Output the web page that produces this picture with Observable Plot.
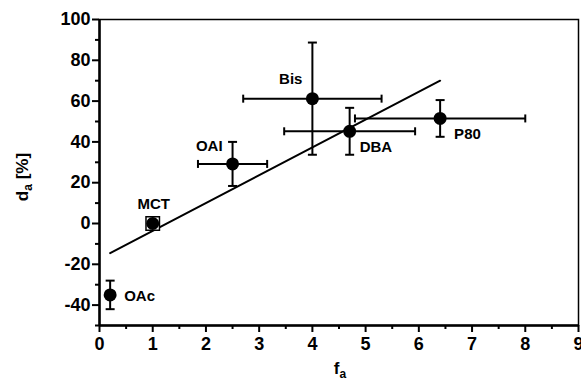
<!DOCTYPE html>
<html>
<head>
<meta charset="utf-8">
<script src="https://cdn.jsdelivr.net/npm/d3@7"></script>
<script src="https://cdn.jsdelivr.net/npm/@observablehq/plot@0.6"></script>
<style>
  html, body { margin: 0; padding: 0; background: #fff; }
  #chart svg { display: block; }
  #chart g[aria-label="x-axis tick label"] text,
  #chart g[aria-label="y-axis tick label"] text { font-weight: bold; font-size: 18px; }
  #chart g[aria-label="x-axis tick label"],
  #chart g[aria-label="y-axis tick label"] { font-weight: bold; font-size: 18px; }
  #chart g[aria-label="text"] { font-weight: bold; }
</style>
</head>
<body>
<div id="chart"></div>
<script>
// ---- data ----
const names = ["OAc", "MCT", "OAI", "Bis", "DBA", "P80"];
const fa    = [0.2, 1.0, 2.5, 4.0, 4.7, 6.4];
const da    = [-35, 0, 29.2, 61.2, 45.2, 51.5];
const faErr = [0, 0, 0.65, 1.3, 1.23, 1.6];
const daErr = [7, 0, 10.8, 27.5, 11.5, 9];
const fitX  = [0.2, 6.4];
const fitY  = [-14.5, 70];
const xTicks = [0, 1, 2, 3, 4, 5, 6, 7, 8, 9];
const xMinor = [0.5, 1.5, 2.5, 3.5, 4.5, 5.5, 6.5, 7.5, 8.5];
const yTicks = [-40, -20, 0, 20, 40, 60, 80, 100];
const yMinor = [-50, -30, -10, 10, 30, 50, 70, 90];

const idx = names.map((_, i) => i);
const withX = idx.filter(i => faErr[i] > 0);
const withY = idx.filter(i => daErr[i] > 0);

function lineSymbol(vertical) {
  return {
    draw(ctx, size) {
      const h = Math.sqrt(size / Math.PI);
      if (vertical) { ctx.moveTo(0, -h); ctx.lineTo(0, h); }
      else { ctx.moveTo(-h, 0); ctx.lineTo(h, 0); }
    }
  };
}

const labelPos = {
  OAc: {dx: 14, dy: 1, textAnchor: "start"},
  MCT: {dx: 1, dy: -19, textAnchor: "middle"},
  OAI: {dx: -10, dy: -18, textAnchor: "end"},
  Bis: {dx: -10, dy: -19, textAnchor: "end"},
  DBA: {dx: 10, dy: 16, textAnchor: "start"},
  P80: {dx: 14, dy: 16, textAnchor: "start"}
};

const font = "'Liberation Sans', Arial, Helvetica, sans-serif";

const chart = Plot.plot({
  width: 581,
  height: 381,
  marginLeft: 99,
  marginRight: 3,
  marginTop: 19,
  marginBottom: 56,
  style: {fontFamily: font, background: "#fff", color: "#000"},
  x: {domain: [0, 9], label: null},
  y: {domain: [-50, 100], label: null},
  marks: [
    Plot.frame({stroke: "#000", strokeWidth: 1.5}),
    Plot.axisX(xTicks, {tickSize: 7, tickPadding: 5, strokeWidth: 2, fontSize: 18, fontWeight: "bold", tickFormat: d => String(d), label: null}),
    Plot.axisX(xMinor, {tickSize: 4, strokeWidth: 2, tickFormat: () => "", label: null}),
    Plot.axisY(yTicks, {tickSize: 7, tickPadding: 2, strokeWidth: 2, fontSize: 18, fontWeight: "bold", tickFormat: d => String(d), label: null}),
    Plot.axisY(yMinor, {tickSize: 4, strokeWidth: 2, tickFormat: () => "", label: null}),
    Plot.ruleX([0], {stroke: "#000", strokeWidth: 2.5}),
    Plot.ruleY([-50], {stroke: "#000", strokeWidth: 2.5}),
    // fitted line
    Plot.line(fitX.map((x, i) => i), {x: i => fitX[i], y: i => fitY[i], stroke: "#000", strokeWidth: 2}),
    // horizontal error bars
    Plot.link(withX, {x1: i => fa[i] - faErr[i], x2: i => fa[i] + faErr[i], y1: i => da[i], y2: i => da[i], stroke: "#000", strokeWidth: 2}),
    Plot.dot(withX, {x: i => fa[i] - faErr[i], y: i => da[i], symbol: lineSymbol(true), r: 4, stroke: "#000", strokeWidth: 2, fill: "none"}),
    Plot.dot(withX, {x: i => fa[i] + faErr[i], y: i => da[i], symbol: lineSymbol(true), r: 4, stroke: "#000", strokeWidth: 2, fill: "none"}),
    // vertical error bars
    Plot.link(withY, {x1: i => fa[i], x2: i => fa[i], y1: i => da[i] - daErr[i], y2: i => da[i] + daErr[i], stroke: "#000", strokeWidth: 2}),
    Plot.dot(withY, {x: i => fa[i], y: i => da[i] - daErr[i], symbol: lineSymbol(false), r: 4.5, stroke: "#000", strokeWidth: 2, fill: "none"}),
    Plot.dot(withY, {x: i => fa[i], y: i => da[i] + daErr[i], symbol: lineSymbol(false), r: 4.5, stroke: "#000", strokeWidth: 2, fill: "none"}),
    // MCT square
    Plot.dot([1], {x: i => fa[i], y: i => da[i], symbol: "square", r: 7.6, stroke: "#000", strokeWidth: 1.5, fill: "#fff"}),
    // points
    Plot.dot(idx, {x: i => fa[i], y: i => da[i], r: 6.5, fill: "#000", stroke: "none"}),
    // labels
    ...idx.map(i => Plot.text([i], {
      x: j => fa[j], y: j => da[j], text: j => names[j],
      dx: labelPos[names[i]].dx, dy: labelPos[names[i]].dy,
      textAnchor: labelPos[names[i]].textAnchor,
      fontSize: 15, fontWeight: "bold", fill: "#000", fontFamily: font
    }))
  ]
});

const svg = d3.select(chart);
// y-axis title: d_a [%]
const yt = svg.append("text")
  .attr("transform", "translate(28,177) rotate(-90)")
  .attr("text-anchor", "middle")
  .attr("font-family", font).attr("font-size", 17).attr("font-weight", "bold").attr("fill", "#000");
yt.append("tspan").text("d");
yt.append("tspan").attr("font-size", 12).attr("dy", 4).text("a");
yt.append("tspan").attr("dy", -4).text(" [%]");
// x-axis title: f_a
const xt = svg.append("text")
  .attr("x", 340).attr("y", 374)
  .attr("text-anchor", "middle")
  .attr("font-family", font).attr("font-size", 17).attr("font-weight", "bold").attr("fill", "#000");
xt.append("tspan").text("f");
xt.append("tspan").attr("font-size", 12).attr("dy", 4).text("a");

document.getElementById("chart").appendChild(chart);
</script>
</body>
</html>
